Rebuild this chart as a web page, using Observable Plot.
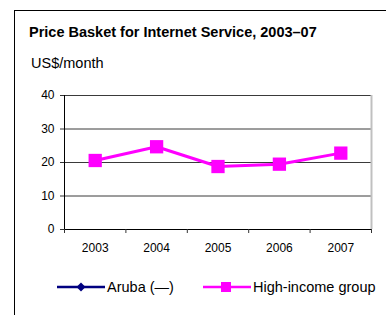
<!DOCTYPE html>
<html><head><meta charset="utf-8">
<script src="https://cdn.jsdelivr.net/npm/d3@7"></script>
<script src="https://cdn.jsdelivr.net/npm/@observablehq/plot@0.6"></script>
<style>
body{margin:0;background:#fff;font-family:"Liberation Sans",Arial,sans-serif;}
#wrap{position:relative;width:386px;height:315px;overflow:hidden;}
#box{position:absolute;left:14px;top:10px;width:400px;height:320px;border-left:1px solid #000;border-top:1px solid #000;}
#title{position:absolute;left:29px;top:24px;font-size:14.5px;line-height:16px;font-weight:bold;white-space:nowrap;}
#sub{position:absolute;left:31px;top:55px;font-size:14.5px;line-height:16px;}
#chart{position:absolute;left:0;top:80px;}
#legend{position:absolute;left:0;top:277px;width:386px;font-size:14.5px;}
.li{position:absolute;top:0;display:flex;align-items:center;height:20px;white-space:nowrap;}
</style></head><body>
<div id="wrap">
<div id="box"></div>
<div id="title">Price Basket for Internet Service, 2003–07</div>
<div id="sub">US$/month</div>
<div id="chart"></div>
<div id="legend"></div>
</div>
<script>
const years = [2003, 2004, 2005, 2006, 2007];
const highIncome = [20.6, 24.7, 18.8, 19.5, 22.8];
const aruba = [];
const yTicks = [0, 10, 20, 30, 40];
const seriesNames = ["Aruba (—)", "High-income group"];
const seriesColors = ["#000080", "#FF00FF"];

const data = years.map((y, i) => ({year: y, value: highIncome[i]}));
const edges = [years[0] - 0.5, ...years.map(y => y + 0.5)];

const plot = Plot.plot({
  width: 386,
  height: 175,
  marginLeft: 64,
  marginRight: 15,
  marginTop: 15,
  marginBottom: 26,
  style: {fontFamily: "Liberation Sans, Arial, sans-serif", fontSize: "12px", color: "#000", background: "transparent"},
  x: {domain: [edges[0], edges[edges.length - 1]], label: null},
  y: {domain: [0, 40], label: null},
  marks: [
    Plot.ruleY(yTicks.slice(1), {y: d => d, stroke: "#3a3a3a", strokeWidth: 1, strokeOpacity: 1}),
    Plot.ruleX([edges[edges.length - 1]], {x: d => d, stroke: "#c0c0c0", strokeWidth: 2, strokeOpacity: 1}),
    Plot.ruleX([edges[0]], {x: d => d, stroke: "#000", strokeOpacity: 1}),
    Plot.ruleY([0], {stroke: "#000", strokeOpacity: 1}),
    Plot.axisY({ticks: yTicks, tickSize: 4, tickPadding: 6, tickFormat: d => d, fontSize: 12, stroke: "#333"}),
    Plot.axisX({ticks: edges, tickSize: 4, tickFormat: () => "", stroke: "#333"}),
    Plot.axisX({ticks: years, tickSize: 0, tickPadding: 14, tickFormat: d => String(d), fontSize: 12}),
    Plot.line(data, {x: "year", y: "value", stroke: seriesColors[1], strokeWidth: 3}),
    Plot.dot(data, {x: "year", y: "value", symbol: "square", r: 7.5, fill: seriesColors[1], stroke: "none"})
  ]
});
document.getElementById("chart").appendChild(plot);

// legend
const legend = document.getElementById("legend");
const positions = [57, 203];
seriesNames.forEach((name, i) => {
  const div = document.createElement("div");
  div.className = "li";
  div.style.left = positions[i] + "px";
  const svg = d3.create("svg").attr("width", 50).attr("height", 20);
  svg.append("line").attr("x1", 0).attr("x2", 48).attr("y1", 10).attr("y2", 10)
     .attr("stroke", seriesColors[i]).attr("stroke-width", 2.5);
  if (i === 0) {
    svg.append("path").attr("d", "M24,5.5L28.5,10L24,14.5L19.5,10Z").attr("fill", seriesColors[i]);
  } else {
    svg.append("rect").attr("x", 18).attr("y", 5).attr("width", 10).attr("height", 10).attr("fill", seriesColors[i]);
  }
  div.appendChild(svg.node());
  const span = document.createElement("span");
  span.textContent = name;
  div.appendChild(span);
  legend.appendChild(div);
});
</script>
</body></html>
